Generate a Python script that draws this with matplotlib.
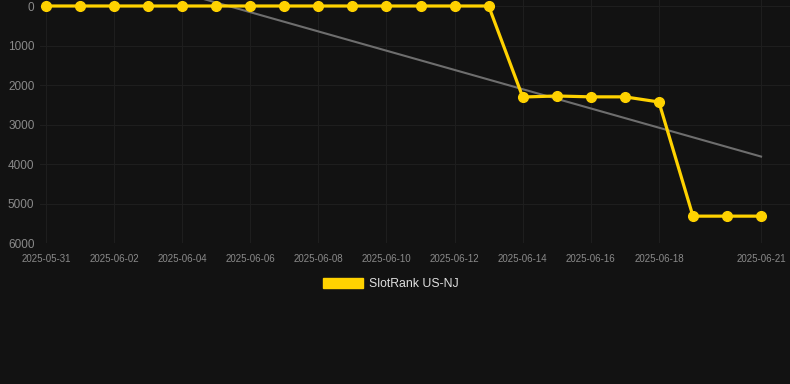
import numpy as np
import pandas as pd
import matplotlib
matplotlib.use("Agg")
import matplotlib.pyplot as plt
import matplotlib.dates as mdates
from matplotlib.patches import Patch

plt.rcParams['font.family'] = ['Liberation Sans', 'DejaVu Sans']

dates = pd.date_range("2025-05-31", "2025-06-21", freq="D")
ranks = [0, 0, 0, 0, 0, 0, 0, 0, 0, 0, 0, 0, 0, 0,
         2304, 2278, 2300, 2300, 2430, 5320, 5320, 5320]
tickDates = ["2025-05-31", "2025-06-02", "2025-06-04", "2025-06-06", "2025-06-08",
             "2025-06-10", "2025-06-12", "2025-06-14", "2025-06-16", "2025-06-18",
             "2025-06-21"]
yTicks = [0, 1000, 2000, 3000, 4000, 5000, 6000]
seriesName = "SlotRank US-NJ"

bg = "#121212"
yellow = "#FFD200"

fig = plt.figure(figsize=(7.9, 3.84), dpi=100, facecolor=bg)
ax = fig.add_axes([40 / 790, (384 - 243) / 384, 750 / 790, 243 / 384])
ax.set_facecolor(bg)

xNum = mdates.date2num(dates)

# trend line (least squares over the series)
slope, icpt = np.polyfit(xNum - xNum[0], ranks, 1)
trendX = np.array([xNum[0], xNum[-1]])
ax.plot(trendX, icpt + slope * (trendX - xNum[0]), color="#6e6e6e", lw=1.5, zorder=2)

ax.plot(xNum, ranks, color=yellow, lw=2.3, marker="o", ms=7, zorder=3)

ax.set_xlim(xNum[0] - 0.176, xNum[0] + 21.85)
ax.set_ylim(6000, -152)
ax.set_yticks(yTicks)
ax.set_xticks(mdates.date2num(pd.to_datetime(tickDates)))
ax.set_xticklabels(tickDates)

ax.grid(True, color="#1e1e1e", lw=0.8, zorder=0)
for s in ax.spines.values():
    s.set_visible(False)
ax.tick_params(axis="y", length=0, pad=4, labelsize=8.5, labelcolor="#8a8a8a")
ax.tick_params(axis="x", length=0, pad=8, labelsize=7, labelcolor="#8a8a8a")

fig.legend(handles=[Patch(facecolor=yellow, edgecolor=yellow)], labels=[seriesName],
           loc="center", bbox_to_anchor=(0.495, 1 - 284 / 384), frameon=False,
           handlelength=3.3, handleheight=0.9, handletextpad=0.5,
           fontsize=8.8, labelcolor="#e0e0e0")

fig.savefig("out.png", dpi=100, facecolor=bg)
